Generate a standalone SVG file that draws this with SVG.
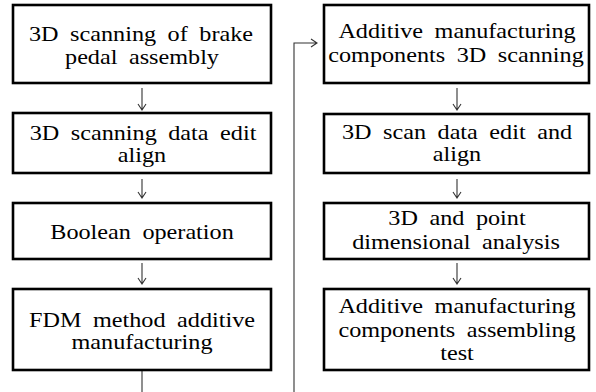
<svg xmlns="http://www.w3.org/2000/svg" width="596" height="392" viewBox="0 0 596 392">
<style>
.box{fill:#fff;stroke:#000;stroke-width:2.6}
.c{fill:none;stroke:#333;stroke-width:1.1}
</style>
<rect width="596" height="392" fill="#fff"/>
<g id="connectors">
<path class="c" d="M142,88 V109 M138,104 L142,110 L146,104"/>
<path class="c" d="M142,179 V198 M138,192 L142,198 L146,192"/>
<path class="c" d="M142,263 V284 M138,278 L142,284 L146,278"/>
<path class="c" d="M457,88 V109 M453,104 L457,110 L461,104"/>
<path class="c" d="M457,179 V198 M453,192 L457,198 L461,192"/>
<path class="c" d="M457,263 V284 M453,278 L457,284 L461,278"/>
<path class="c" d="M142,371 V392"/>
<path class="c" d="M294,392 V43 H317 M311,39 L317,43 L311,47"/>
</g>
<g id="n1"><rect class="box" x="13" y="5" width="258" height="78"/>
<text style="font-family:'Liberation Serif',serif !important;font-size:22px;text-anchor:middle;word-spacing:5px;fill:#000" transform="translate(141,41) scale(1.1,1)">3D scanning of brake</text>
<text style="font-family:'Liberation Serif',serif !important;font-size:22px;text-anchor:middle;word-spacing:5px;fill:#000" transform="translate(142,64) scale(1.1,1)">pedal assembly</text></g>
<g id="n2"><rect class="box" x="13" y="113" width="258" height="60"/>
<text style="font-family:'Liberation Serif',serif !important;font-size:22px;text-anchor:middle;word-spacing:5px;fill:#000" transform="translate(143,140) scale(1.1,1)">3D scanning data edit</text>
<text style="font-family:'Liberation Serif',serif !important;font-size:22px;text-anchor:middle;word-spacing:5px;fill:#000" transform="translate(142,162) scale(1.1,1)">align</text></g>
<g id="n3"><rect class="box" x="13" y="203" width="258" height="56"/>
<text style="font-family:'Liberation Serif',serif !important;font-size:22px;text-anchor:middle;word-spacing:5px;fill:#000" transform="translate(142,239) scale(1.1,1)">Boolean operation</text></g>
<g id="n4"><rect class="box" x="13" y="289" width="258" height="81"/>
<text style="font-family:'Liberation Serif',serif !important;font-size:22px;text-anchor:middle;word-spacing:5px;fill:#000" transform="translate(142,327) scale(1.1,1)">FDM method additive</text>
<text style="font-family:'Liberation Serif',serif !important;font-size:22px;text-anchor:middle;word-spacing:5px;fill:#000" transform="translate(142,349) scale(1.1,1)">manufacturing</text></g>
<g id="n5"><rect class="box" x="324" y="5" width="265" height="78"/>
<text style="font-family:'Liberation Serif',serif !important;font-size:22px;text-anchor:middle;word-spacing:5px;fill:#000" transform="translate(457,38) scale(1.1,1)">Additive manufacturing</text>
<text style="font-family:'Liberation Serif',serif !important;font-size:22px;text-anchor:middle;word-spacing:5px;fill:#000" transform="translate(456,62) scale(1.1,1)">components 3D scanning</text></g>
<g id="n6"><rect class="box" x="324" y="114" width="265" height="59"/>
<text style="font-family:'Liberation Serif',serif !important;font-size:22px;text-anchor:middle;word-spacing:5px;fill:#000" transform="translate(457,139) scale(1.1,1)">3D scan data edit and</text>
<text style="font-family:'Liberation Serif',serif !important;font-size:22px;text-anchor:middle;word-spacing:5px;fill:#000" transform="translate(457,161) scale(1.1,1)">align</text></g>
<g id="n7"><rect class="box" x="324" y="203" width="265" height="56"/>
<text style="font-family:'Liberation Serif',serif !important;font-size:22px;text-anchor:middle;word-spacing:5px;fill:#000" transform="translate(457,225) scale(1.1,1)">3D and point</text>
<text style="font-family:'Liberation Serif',serif !important;font-size:22px;text-anchor:middle;word-spacing:5px;fill:#000" transform="translate(456,249) scale(1.1,1)">dimensional analysis</text></g>
<g id="n8"><rect class="box" x="324" y="289" width="265" height="81"/>
<text style="font-family:'Liberation Serif',serif !important;font-size:22px;text-anchor:middle;word-spacing:5px;fill:#000" transform="translate(457,313) scale(1.1,1)">Additive manufacturing</text>
<text style="font-family:'Liberation Serif',serif !important;font-size:22px;text-anchor:middle;word-spacing:5px;fill:#000" transform="translate(457,337) scale(1.1,1)">components assembling</text>
<text style="font-family:'Liberation Serif',serif !important;font-size:22px;text-anchor:middle;word-spacing:5px;fill:#000" transform="translate(457,360) scale(1.1,1)">test</text></g>
</svg>
